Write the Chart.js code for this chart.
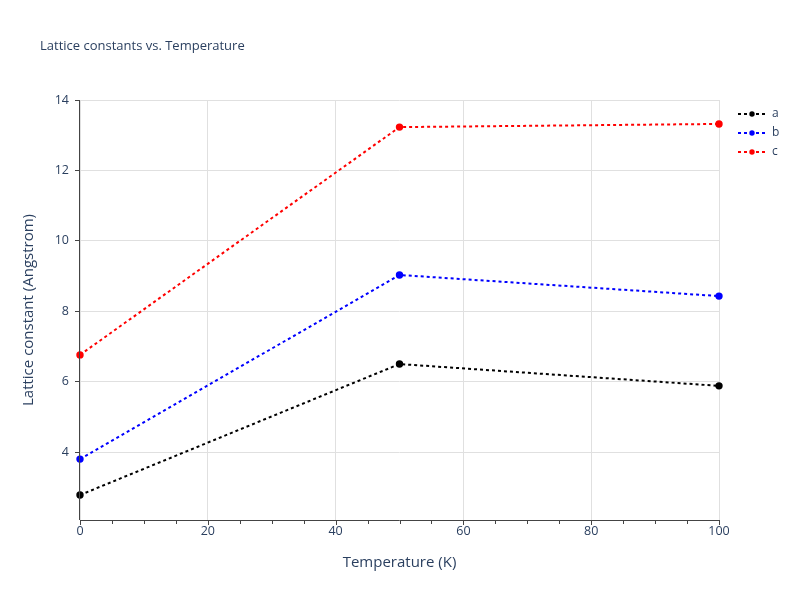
<!DOCTYPE html>
<html><head><meta charset="utf-8">
<script src="https://cdn.jsdelivr.net/npm/chart.js@4/dist/chart.umd.min.js"></script>
<style>body{margin:0;background:#fff}#w{width:800px;height:600px}</style>
</head><body><div id="w"><canvas id="c"></canvas></div>
<script>
const temps=[0,50,100];
const aVals=[2.78,6.5,5.88];
const bVals=[3.8,9.03,8.43];
const cVals=[6.76,13.23,13.32];
const seriesNames=['a','b','c'];
const colors=['#000000','#0000ff','#ff0000'];
const yTicks=[4,6,8,10,12,14];
const font='"Open Sans", sans-serif';
const txt='#2a3f5f';
const mk=(n,v,col)=>({label:n,data:temps.map((t,i)=>({x:t,y:v[i]})),borderColor:col,backgroundColor:col,borderDash:[3,3],borderWidth:2,pointRadius:2.7,pointHoverRadius:2.7,clip:false});
const deco={id:'deco',afterDraw(ch){const c=ch.ctx,ca=ch.chartArea;c.save();c.fillStyle=txt;
c.font='13px '+font;c.textBaseline='middle';c.fillText('Lattice constants vs. Temperature',40,46);
c.font='15px '+font;c.textAlign='center';c.fillText('Temperature (K)',(ca.left+ca.right)/2,563);
c.translate(29,(ca.top+ca.bottom)/2);c.rotate(-Math.PI/2);c.fillText('Lattice constant (Angstrom)',0,0);c.restore();
c.save();c.strokeStyle='#444';c.lineWidth=1;const xs=ch.scales.x;
for(let v=0;v<=100;v+=5){const px=Math.round(xs.getPixelForValue(v))+0.5;c.beginPath();c.moveTo(px,ca.bottom);c.lineTo(px,ca.bottom+(v%20==0?5:4));c.stroke();}
c.beginPath();c.moveTo(ca.left,ca.bottom+0.5);c.lineTo(ca.right,ca.bottom+0.5);c.stroke();
c.beginPath();c.moveTo(ca.left-0.5,ca.top);c.lineTo(ca.left-0.5,ca.bottom);c.stroke();
ch.data.datasets.forEach((d,i)=>{const y=114+i*19;c.strokeStyle=d.borderColor;c.lineWidth=2;c.setLineDash([3,3]);c.beginPath();c.moveTo(738,y);c.lineTo(766,y);c.stroke();c.setLineDash([]);
c.fillStyle=d.borderColor;c.beginPath();c.arc(752,y,2.7,0,Math.PI*2);c.fill();c.fillStyle=txt;c.font='12px '+font;c.textAlign='left';c.textBaseline='middle';c.fillText(d.label,772,y);});
c.restore();}};
new Chart(document.getElementById('c'),{type:'line',
data:{datasets:[mk(seriesNames[0],aVals,colors[0]),mk(seriesNames[1],bVals,colors[1]),mk(seriesNames[2],cVals,colors[2])]},
options:{responsive:true,maintainAspectRatio:false,animation:false,
layout:{padding:{top:100,right:81,left:0,bottom:0}},
plugins:{legend:{display:false},title:{display:false},tooltip:{enabled:false}},
scales:{
x:{type:'linear',min:0,max:100,afterFit(s){s.height=80;},
ticks:{stepSize:20,color:txt,font:{family:font,size:12.5},padding:4},
grid:{color:'#e0e0e0',drawTicks:false,lineWidth:1},border:{display:false}},
y:{type:'linear',min:2.07,max:14,afterFit(s){s.width=80;},
afterBuildTicks(s){s.ticks=yTicks.map(v=>({value:v}));},
ticks:{color:txt,font:{family:font,size:12.5},padding:6},
grid:{color:'#e0e0e0',drawTicks:true,tickLength:5,tickColor:'#444'},border:{display:false}}}},
plugins:[deco]});
</script></body></html>
